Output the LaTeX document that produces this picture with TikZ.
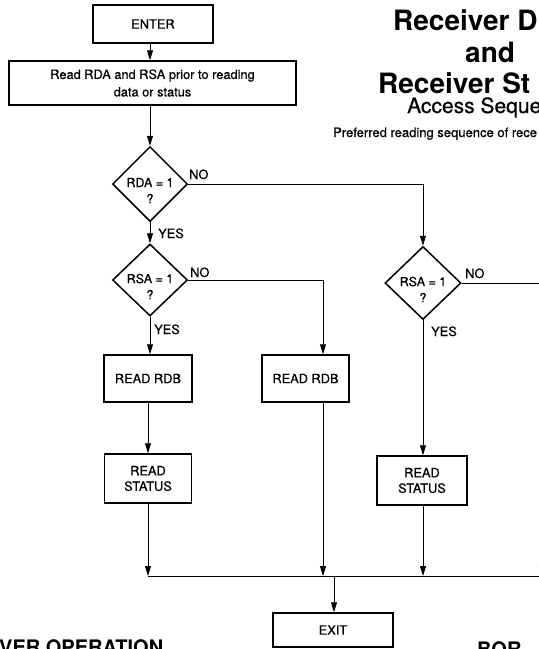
\documentclass[tikz,border=0pt]{standalone}
\usepackage{fontspec}
\setmainfont{TeX Gyre Heros}
\newfontfamily\medfont[FakeBold=0.6]{TeX Gyre Heros}
\usetikzlibrary{arrows.meta,shapes.geometric}
\tikzset{
  box/.style={draw,line width=1.5pt,align=center,inner sep=0pt,
    font=\medfont\fontsize{12.8}{15.5}\selectfont},
  dia/.style={draw,diamond,line width=1.5pt,minimum width=75pt,
    minimum height=75pt,inner sep=0pt},
  qtext/.style={align=center,inner sep=0pt,font=\medfont\fontsize{12.5}{16}\selectfont},
  lbl/.style={anchor=base west,inner sep=0pt,font=\medfont\fontsize{12.8}{15}\selectfont},
  ttl/.style={anchor=base west,inner sep=0pt,text depth=0pt},
  arr/.style={line width=0.8pt,-{Triangle[length=10pt,width=6pt]}},
  wire/.style={line width=0.8pt},
}

\begin{document}
\begin{tikzpicture}[x=1pt,y=-1pt]
  \useasboundingbox (0,0) rectangle (539,649);
  \fill[white] (0,0) rectangle (539,649);
  \clip (0,0) rectangle (539,649);
  % title
  \node[ttl,font=\fontsize{28}{30}\bfseries] (t1) at (393,30) {Receiver D};
  \node[ttl,font=\fontsize{28}{30}\bfseries] (t2) at (465,62) {and};
  \node[ttl,font=\fontsize{28}{30}\bfseries] (t3) at (378,93) {Receiver St};
  \node[ttl,text height=14pt,font=\medfont\fontsize{21}{23}\selectfont] (t4) at (407,113) {Access Seque};
  \node[ttl,font=\medfont\fontsize{13}{15}\selectfont] (t5) at (333,137) {Preferred reading sequence of rece};
  \node[ttl,font=\fontsize{20}{22}\bfseries] (h1) at (-1,654) {VER OPERATION};
  \node[ttl,font=\fontsize{20}{22}\bfseries] (h2) at (477,656) {BOR};
  % left branch
  \node[box,minimum width=120pt,minimum height=38pt] (enter) at (153,24) {ENTER};
  \node[box,minimum width=287pt,minimum height=44pt] (rdrsa) at (152.5,83)
       {Read RDA and RSA prior to reading\\[2pt]data or status};
  \node[dia] (rda) at (150,184) {};
  \node[qtext] (rdaq) at (150,190.5) {RDA = 1\\?};
  \node[dia,minimum height=72pt] (rsa) at (150,280) {};
  \node[qtext] (rsaq) at (150,286.5) {RSA = 1\\?};
  \node[box,minimum width=88pt,minimum height=47pt] (rdbl) at (148,378.5) {READ RDB};
  \node[box,minimum width=87pt,minimum height=49pt] (stl) at (148,478.5) {READ\\STATUS};
  % middle branch
  \node[box,minimum width=87pt,minimum height=47pt] (rdbm) at (305.5,378.5) {READ RDB};
  % right branch
  \node[dia,minimum width=76pt,minimum height=73pt] (rsab) at (423,283) {};
  \node[qtext] (rsabq) at (423,289.5) {RSA = 1\\?};
  \node[box,minimum width=90pt,minimum height=49pt] (str) at (422,480.5) {READ\\STATUS};
  % exit
  \node[box,minimum width=120pt,minimum height=34pt] (exit) at (333,630) {EXIT};

  \coordinate (rdbmi) at ([xshift=17.5pt]rdbm.north);
  \coordinate (rdbmo) at ([xshift=17.5pt]rdbm.south);
  \coordinate (jl) at (stl.south |- 0,576);
  \coordinate (jm) at (rdbmo |- 0,576);
  \coordinate (jr) at (rsab.south |- 0,576);
  \coordinate (jx) at (334,576);
  \coordinate (jend) at (545,576);
  \coordinate (jfar) at (542,530);
  \coordinate (rsabno) at (545,283);

  \draw[arr] (enter.south -| rda) -- (rdrsa.north -| rda);
  \draw[arr] (rdrsa.south -| rda) -- (rda.north);
  \draw[arr] (rda.south) -- (rsa.north);
  \draw[arr] (rsa.south) -- (rsa.south |- rdbl.north);
  \draw[arr] (rdbl) -- (stl);
  \draw[arr] (rda.east) -| (rsab.north);
  \draw[arr] (rsa.east) -| (rdbmi);
  \draw[wire] (rsab.east) -- (rsabno);
  \draw[arr] (rsab.south) -- (rsab.south |- str.north);
  \foreach \a/\b in {stl.south/jl,rdbmo/jm,rsab.south |- str.south/jr,jfar/jfar |- jend}
    \draw[arr] (\a) -- (\b);
  \draw[wire] (jl) -- (jend);
  \draw[arr] (jx) -- (jx |- exit.north);

  % branch labels
  \node[lbl] (no1) at (189,179) {NO};
  \node[lbl] (yes1) at (158,238) {YES};
  \node[lbl] (no2) at (190,277) {NO};
  \node[lbl] (yes2) at (154,334) {YES};
  \node[lbl] (no3) at (465,278) {NO};
  \node[lbl] (yes3) at (431,336) {YES};
\end{tikzpicture}
\end{document}
